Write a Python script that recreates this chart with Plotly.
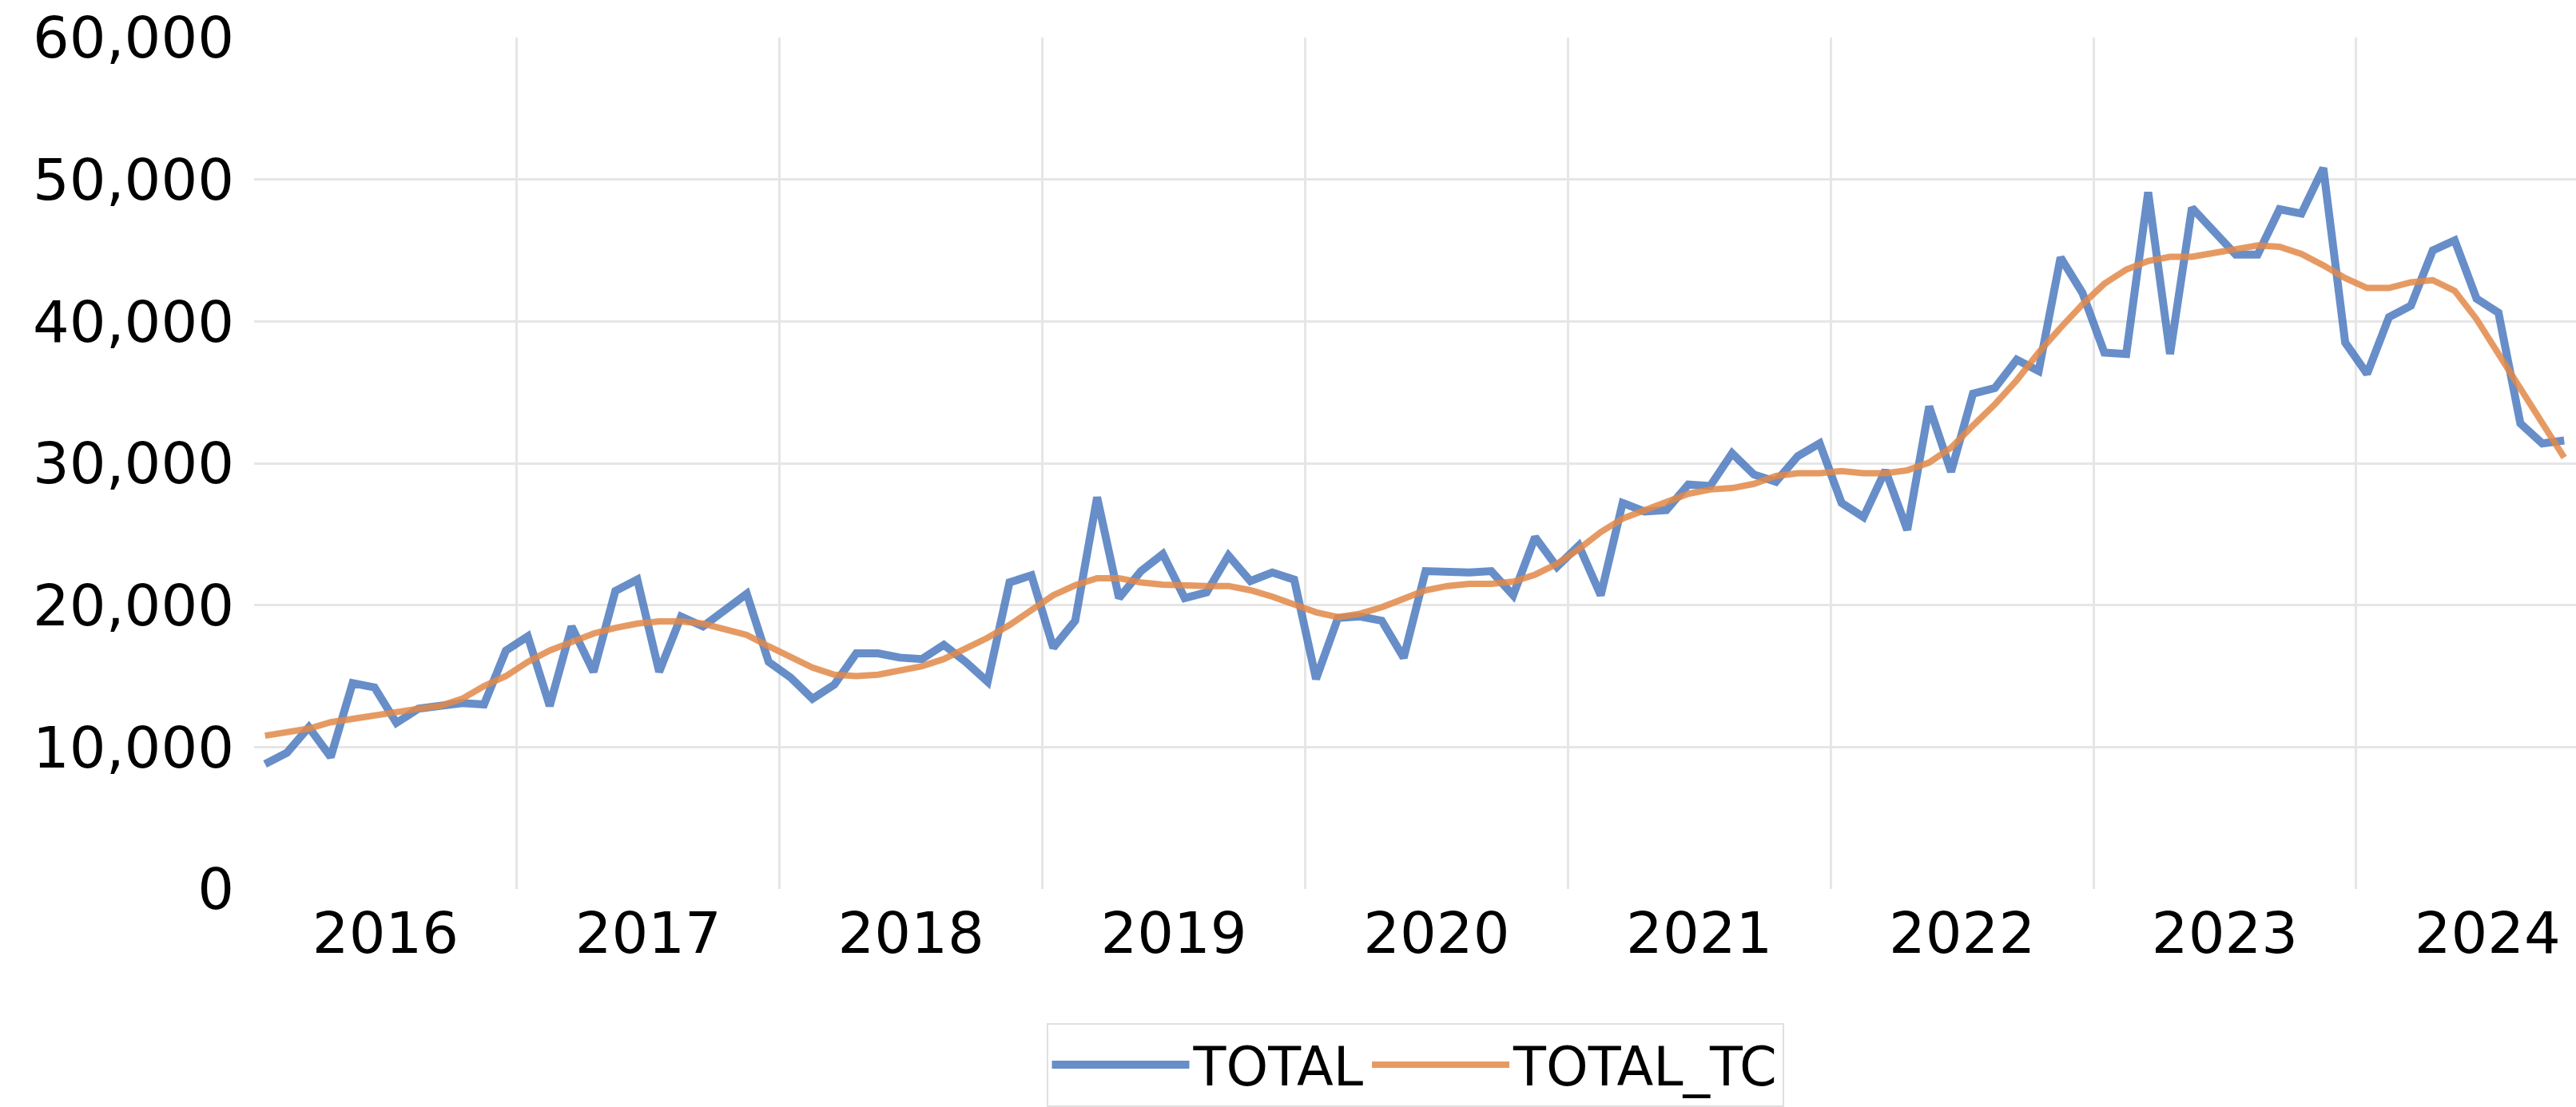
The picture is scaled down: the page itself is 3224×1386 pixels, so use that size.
import numpy as np
import plotly.graph_objects as go

# ---- data (monthly, Jan 2016 .. Oct 2024) ----
years = [2016, 2017, 2018, 2019, 2020, 2021, 2022, 2023, 2024]

total = [
    8800, 9600, 11400, 9300, 14500, 14200, 11700, 12700, 12900, 13100, 13000, 16800,   # 2016
    17800, 12900, 18500, 15300, 21000, 21800, 15300, 19200, 18500, 19700, 20800, 16000, # 2017
    14900, 13400, 14400, 16600, 16600, 16300, 16200, 17200, 16000, 14600, 21600, 22100, # 2018
    17000, 18900, 27600, 20500, 22400, 23600, 20500, 20900, 23500, 21700, 22300, 21800, # 2019
    14800, 19100, 19200, 18900, 16300, 22400, 22300, 22300, 22400, 20700, 24800, 22700, # 2020
    24200, 20700, 27200, 26600, 26700, 28500, 28400, 30700, 29200, 28700, 30500, 31400, # 2021
    27200, 26200, 29500, 25300, 34000, 29400, 34900, 35300, 37300, 36500, 44500, 42000, # 2022
    37800, 37700, 49100, 37700, 48000, 46400, 44700, 44700, 47900, 47600, 50800, 38500, # 2023
    36300, 40300, 41100, 45000, 45700, 41600, 40600, 32800, 31400, 31600,               # 2024
]

total_tc = [
    10800, 11000, 11300, 11750, 12000, 12300, 12500, 12700, 12900, 13400, 14300, 15000,  # 2016
    16000, 16800, 17400, 18000, 18400, 18700, 18850, 18850, 18700, 18300, 17900, 17100,  # 2017
    16300, 15600, 15100, 15000, 15100, 15400, 15700, 16200, 16900, 17700, 18600, 19700,  # 2018
    20700, 21400, 21900, 21900, 21600, 21450, 21350, 21350, 21350, 21050, 20600, 20050,  # 2019
    19500, 19150, 19400, 19850, 20500, 21050, 21350, 21500, 21500, 21650, 22150, 22900,  # 2020
    23950, 25150, 26100, 26700, 27300, 27850, 28150, 28250, 28550, 29100, 29300, 29300,  # 2021
    29450, 29300, 29300, 29500, 30050, 31100, 32650, 34150, 35850, 37800, 39550, 41200,  # 2022
    42650, 43650, 44250, 44550, 44550, 44850, 45100, 45350, 45250, 44750, 43950, 43050,  # 2023
    42350, 42350, 42750, 42900, 42150, 40150, 37700, 35250, 32700, 30400,                # 2024
]

y_ticks = [0, 10000, 20000, 30000, 40000, 50000, 60000]

# category positions: month slot i spans [i, i+1]
x = np.arange(len(total)) + 0.5
year_centers = [12 * k + 6 for k in range(len(years))]
year_bounds = [12 * k for k in range(1, len(years))]

fig = go.Figure()
fig.add_trace(go.Scatter(
    x=x, y=total, mode="lines", name="TOTAL",
    line=dict(color="rgba(60,110,185,0.78)", width=10),
))
fig.add_trace(go.Scatter(
    x=x, y=total_tc, mode="lines", name="TOTAL_TC",
    line=dict(color="rgba(226,136,72,0.85)", width=8),
))

grid_col = "#e6e6e6"
fig.update_layout(
    template="none",
    width=3224, height=1386,
    margin=dict(l=317.5, r=0, t=47, b=272.5, pad=0),
    paper_bgcolor="white", plot_bgcolor="white",
    font=dict(family="DejaVu Sans", size=70, color="black"),
    xaxis=dict(
        range=[0, 106.04],
        tickmode="array", tickvals=year_centers, ticktext=[str(y) for y in years],
        tickfont=dict(size=72),
        showgrid=False, zeroline=False, showline=False, ticks="",
        ticklabelstandoff=7, ticklabeloverflow="allow",
        minor=dict(tickmode="array", tickvals=year_bounds, showgrid=True,
                   gridcolor=grid_col, gridwidth=3, ticks=""),
    ),
    yaxis=dict(
        range=[0, 60000],
        tickmode="array", tickvals=y_ticks, tickformat=",d",
        tickfont=dict(size=72),
        showgrid=True, gridcolor=grid_col, gridwidth=3,
        zeroline=False, showline=False, ticks="",
        ticklabelstandoff=24, ticklabeloverflow="allow",
    ),
    legend=dict(
        orientation="h", x=0.5, xanchor="center", y=-0.158, yanchor="top",
        bordercolor="#e0e0e0", borderwidth=2, bgcolor="white",
        font=dict(size=67), itemwidth=172,
    ),
    showlegend=True,
)

fig.write_html(
    "out.html",
    config={"displayModeBar": False},
    post_script="document.body.style.margin='0';",
)
